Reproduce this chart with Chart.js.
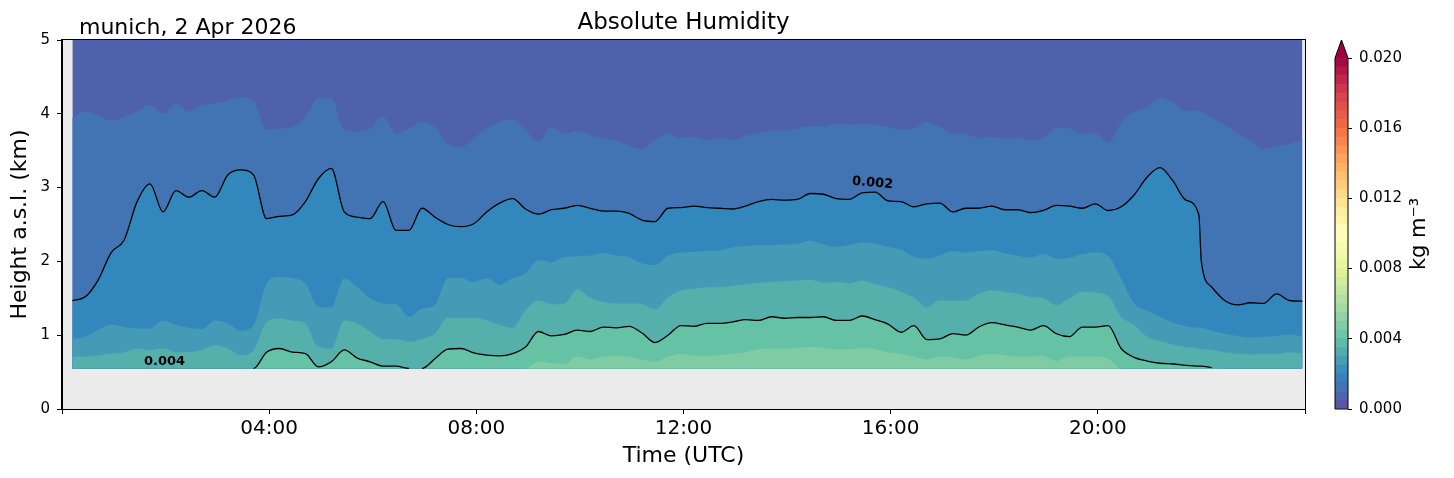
<!DOCTYPE html>
<html>
<head>
<meta charset="utf-8">
<script src="https://cdn.jsdelivr.net/npm/chart.js@4.4.1/dist/chart.umd.min.js"></script>
<style>
  html, body { margin: 0; padding: 0; background: #fff; }
  #main { position: absolute; left: 0; top: 0; width: 1320px; height: 478px; }
  #cbar { position: absolute; left: 1300px; top: 0; width: 154px; height: 478px; }
</style>
</head>
<body>
<div id="main"><canvas id="humidityChart"></canvas></div>
<div id="cbar"><canvas id="colorbarChart"></canvas></div>
<script>
// sample times (hours UTC)
const hours = [0.2, 0.45, 0.7, 0.95, 1.2, 1.45, 1.7, 1.95, 2.2, 2.45, 2.7, 2.95, 3.2, 3.45, 3.7, 3.95, 4.2, 4.45, 4.7, 4.95, 5.2, 5.45, 5.7, 5.95,
  6.2, 6.45, 6.7, 6.95, 7.2, 7.45, 7.7, 7.95, 8.2, 8.45, 8.7, 8.95, 9.2, 9.45, 9.7, 9.95, 10.2, 10.45, 10.7, 10.95, 11.2, 11.45, 11.7, 11.95,
  12.2, 12.45, 12.7, 12.95, 13.2, 13.45, 13.7, 13.95, 14.2, 14.45, 14.7, 14.95, 15.2, 15.45, 15.7, 15.95, 16.2, 16.45, 16.7, 16.95, 17.2, 17.45, 17.7, 17.95,
  18.2, 18.45, 18.7, 18.95, 19.2, 19.45, 19.7, 19.95, 20.2, 20.45, 20.7, 20.95, 21.2, 21.45, 21.7, 21.95, 22.0, 22.2, 22.45, 22.7, 22.95, 23.2, 23.45, 23.7, 23.95];

// contour edges, height a.s.l. in km (top to bottom)
const edge1 = [3.94, 4.03, 3.98, 3.91, 3.96, 4.03, 4.12, 4.00, 4.14, 4.03, 4.12, 4.14, 4.18, 4.22, 4.18, 3.78, 3.80, 3.82, 3.96, 4.21, 4.21, 3.78, 3.76, 3.80,
  3.96, 3.73, 3.80, 3.89, 3.82, 3.59, 3.55, 3.67, 3.80, 3.89, 3.92, 3.78, 3.62, 3.82, 3.73, 3.77, 3.71, 3.67, 3.64, 3.57, 3.53, 3.65, 3.74, 3.67,
  3.69, 3.64, 3.67, 3.64, 3.70, 3.74, 3.77, 3.77, 3.80, 3.83, 3.83, 3.87, 3.85, 3.87, 3.85, 3.82, 3.78, 3.80, 3.89, 3.82, 3.73, 3.73, 3.67, 3.69,
  3.66, 3.68, 3.64, 3.68, 3.81, 3.80, 3.73, 3.74, 3.61, 3.88, 4.03, 4.09, 4.22, 4.16, 4.04, 4.04, 4.03, 3.94, 3.85, 3.74, 3.63, 3.52, 3.56, 3.59, 3.65];
// 0.002 contour
const edge2 = [1.47, 1.52, 1.75, 2.12, 2.29, 2.81, 3.05, 2.67, 2.96, 2.87, 2.96, 2.87, 3.17, 3.24, 3.17, 2.58, 2.61, 2.63, 2.81, 3.12, 3.26, 2.67, 2.60, 2.58,
  2.81, 2.42, 2.42, 2.72, 2.60, 2.50, 2.47, 2.51, 2.67, 2.79, 2.85, 2.71, 2.64, 2.70, 2.72, 2.76, 2.72, 2.68, 2.68, 2.65, 2.56, 2.54, 2.72, 2.73,
  2.75, 2.73, 2.72, 2.71, 2.75, 2.81, 2.84, 2.83, 2.84, 2.92, 2.91, 2.85, 2.84, 2.93, 2.94, 2.82, 2.81, 2.74, 2.78, 2.79, 2.67, 2.72, 2.72, 2.75,
  2.70, 2.70, 2.66, 2.69, 2.76, 2.75, 2.72, 2.78, 2.69, 2.74, 2.90, 3.14, 3.27, 3.09, 2.83, 2.63, 1.99, 1.65, 1.47, 1.41, 1.44, 1.43, 1.56, 1.47, 1.46];
const edge3 = [0.95, 0.98, 1.07, 1.14, 1.11, 1.09, 1.09, 1.20, 1.14, 1.10, 1.08, 1.20, 1.16, 1.06, 1.14, 1.70, 1.79, 1.77, 1.70, 1.39, 1.38, 1.77, 1.65, 1.50,
  1.43, 1.42, 1.25, 1.36, 1.41, 1.77, 1.78, 1.72, 1.77, 1.68, 1.77, 1.84, 2.02, 1.99, 2.06, 2.07, 2.08, 2.11, 2.08, 2.06, 1.97, 1.95, 2.08, 2.12,
  2.13, 2.14, 2.15, 2.19, 2.21, 2.22, 2.22, 2.23, 2.24, 2.28, 2.23, 2.20, 2.22, 2.26, 2.24, 2.20, 2.16, 2.06, 2.04, 2.08, 2.14, 2.12, 2.14, 2.15,
  2.11, 2.08, 2.05, 2.10, 2.04, 2.05, 2.10, 2.12, 2.07, 1.77, 1.43, 1.33, 1.25, 1.17, 1.12, 1.10, 1.10, 1.06, 1.02, 0.99, 0.97, 0.98, 0.99, 1.01, 0.98];
const edge4 = [0.71, 0.71, 0.73, 0.75, 0.77, 0.82, 0.80, 0.82, 0.77, 0.77, 0.80, 0.86, 0.82, 0.73, 0.80, 1.18, 1.23, 1.20, 1.16, 0.84, 0.82, 1.20, 1.16, 1.05,
  0.95, 0.95, 0.91, 0.95, 1.02, 1.24, 1.23, 1.24, 1.20, 1.14, 1.10, 1.34, 1.47, 1.42, 1.43, 1.62, 1.51, 1.45, 1.43, 1.43, 1.42, 1.35, 1.51, 1.61,
  1.63, 1.65, 1.65, 1.67, 1.69, 1.71, 1.72, 1.73, 1.74, 1.75, 1.71, 1.72, 1.70, 1.74, 1.69, 1.65, 1.59, 1.51, 1.38, 1.47, 1.47, 1.47, 1.56, 1.61,
  1.59, 1.56, 1.52, 1.50, 1.41, 1.50, 1.59, 1.58, 1.53, 1.25, 1.14, 0.98, 0.92, 0.87, 0.84, 0.82, 0.81, 0.80, 0.77, 0.75, 0.74, 0.75, 0.74, 0.77, 0.75];
// 0.004 contour
const edge5 = [0.55, 0.55, 0.55, 0.55, 0.55, 0.55, 0.55, 0.55, 0.55, 0.55, 0.55, 0.55, 0.55, 0.55, 0.55, 0.77, 0.82, 0.77, 0.75, 0.57, 0.64, 0.80, 0.69, 0.64,
  0.58, 0.58, 0.55, 0.55, 0.68, 0.81, 0.82, 0.76, 0.73, 0.72, 0.75, 0.84, 1.05, 0.99, 1.01, 1.07, 1.05, 1.11, 1.10, 1.12, 1.03, 0.90, 1.00, 1.13,
  1.12, 1.16, 1.16, 1.18, 1.21, 1.20, 1.25, 1.23, 1.24, 1.24, 1.25, 1.20, 1.20, 1.26, 1.21, 1.15, 1.04, 1.13, 0.94, 0.95, 1.02, 1.00, 1.11, 1.17,
  1.14, 1.11, 1.07, 1.13, 1.02, 0.98, 1.11, 1.11, 1.13, 0.82, 0.70, 0.65, 0.62, 0.61, 0.59, 0.58, 0.58, 0.56, 0.55, 0.55, 0.55, 0.55, 0.55, 0.55, 0.55];
const edge6 = [0.55, 0.55, 0.55, 0.55, 0.55, 0.55, 0.55, 0.55, 0.55, 0.55, 0.55, 0.55, 0.55, 0.55, 0.55, 0.55, 0.55, 0.55, 0.55, 0.55, 0.55, 0.55, 0.55, 0.55,
  0.55, 0.55, 0.55, 0.55, 0.55, 0.55, 0.55, 0.55, 0.55, 0.55, 0.55, 0.55, 0.64, 0.62, 0.61, 0.71, 0.67, 0.71, 0.72, 0.71, 0.67, 0.64, 0.71, 0.75,
  0.72, 0.72, 0.73, 0.75, 0.77, 0.81, 0.82, 0.82, 0.83, 0.84, 0.83, 0.81, 0.81, 0.83, 0.81, 0.77, 0.75, 0.71, 0.67, 0.71, 0.70, 0.67, 0.72, 0.75,
  0.73, 0.71, 0.71, 0.72, 0.65, 0.71, 0.71, 0.71, 0.68, 0.55, 0.55, 0.55, 0.55, 0.55, 0.55, 0.55, 0.55, 0.55, 0.55, 0.55, 0.55, 0.55, 0.55, 0.55, 0.55];

const dataFloor = 0.55; // lowest range gate (km)
const xTicks = [0, 4, 8, 12, 16, 20, 24];
const yTicks = [0, 1, 2, 3, 4, 5];
const contourLabels = [
  { text: "0.002", hour: 15.65, km: 3.06, angle: 5 },
  { text: "0.004", hour: 1.98, km: 0.64, angle: 0 }
];
const cbarLevels = [0, 0.0005, 0.001, 0.0015, 0.002, 0.0025, 0.003, 0.0035, 0.004, 0.0045, 0.005, 0.0055, 0.006, 0.0065, 0.007, 0.0075,
  0.008, 0.0085, 0.009, 0.0095, 0.01, 0.0105, 0.011, 0.0115, 0.012, 0.0125, 0.013, 0.0135, 0.014, 0.0145, 0.015, 0.0155,
  0.016, 0.0165, 0.017, 0.0175, 0.018, 0.0185, 0.019, 0.0195, 0.02];
const cbarTicks = [0, 0.004, 0.008, 0.012, 0.016, 0.02];

const spectral = ["#5e4fa2", "#3288bd", "#66c2a5", "#abdda4", "#e6f598", "#ffffbf", "#fee08b", "#fdae61", "#f46d43", "#d53e4f", "#9e0142"];
const bandColors = ["#5061ab", "#4273b3", "#3288bd", "#439bb5", "#55afab", "#66c2a5", "#7ecba4"];

Chart.defaults.font.family = '"DejaVu Sans"';
Chart.defaults.color = "#000";

function hexRgb(h) {
  return [1, 3, 5].map(i => parseInt(h.slice(i, i + 2), 16));
}
function spectralR(v) {
  const pos = v * (spectral.length - 1);
  const i = Math.min(Math.floor(pos), spectral.length - 2);
  const f = pos - i;
  const a = hexRgb(spectral[i]), b = hexRgb(spectral[i + 1]);
  const c = a.map((x, k) => Math.round(x + (b[k] - x) * f));
  return `rgb(${c[0]},${c[1]},${c[2]})`;
}

const atFloor = (ctx) => ctx.p0.parsed.y <= dataFloor + 0.01 && ctx.p1.parsed.y <= dataFloor + 0.01;

function layer(values, color, fill, contour) {
  return {
    data: hours.map((h, i) => ({ x: h, y: values[i] })),
    backgroundColor: color,
    fill: fill,
    borderColor: contour ? "#000" : "rgba(0,0,0,0)",
    borderWidth: contour ? 1.3 : 0,
    pointRadius: 0,
    cubicInterpolationMode: "monotone",
    segment: contour ? { borderColor: ctx => atFloor(ctx) ? "rgba(0,0,0,0)" : "#000" } : {}
  };
}

const floorFill = { value: dataFloor };
// painted from last to first, so each lower band covers the one above
const datasets = [
  layer(edge6, bandColors[6], floorFill, false),
  layer(edge5, bandColors[5], floorFill, true),
  layer(edge4, bandColors[4], floorFill, false),
  layer(edge3, bandColors[3], floorFill, false),
  layer(edge2, bandColors[2], floorFill, true),
  layer(edge1, bandColors[1], floorFill, false),
  layer(edge6, bandColors[0], "end", false)
];

const plotBackground = {
  id: "plotBackground",
  beforeDraw(chart) {
    const { ctx, chartArea: a } = chart;
    ctx.save();
    ctx.fillStyle = "#ebebeb";
    ctx.fillRect(a.left, a.top, a.width, a.height);
    ctx.restore();
  }
};

const decorations = {
  id: "decorations",
  afterDraw(chart) {
    const { ctx, chartArea: a, scales: { x, y } } = chart;
    ctx.save();
    ctx.fillStyle = "#000";
    ctx.font = 'bold 13px "DejaVu Sans"';
    ctx.textAlign = "center";
    ctx.textBaseline = "middle";
    contourLabels.forEach(l => {
      ctx.save();
      ctx.translate(x.getPixelForValue(l.hour), y.getPixelForValue(l.km));
      ctx.rotate(l.angle * Math.PI / 180);
      ctx.fillText(l.text, 0, 0);
      ctx.restore();
    });
    ctx.strokeStyle = "#000";
    ctx.lineWidth = 1;
    ctx.strokeRect(Math.round(a.left) - 0.5, Math.round(a.top) - 0.5, Math.round(a.width) + 1, Math.round(a.height) + 1);
    ctx.textBaseline = "alphabetic";
    ctx.font = '23px "DejaVu Sans"';
    ctx.fillText("Absolute Humidity", (a.left + a.right) / 2, a.top - 11);
    ctx.textAlign = "left";
    ctx.font = '22px "DejaVu Sans"';
    ctx.fillText("munich, 2 Apr 2026", a.left + 17, a.top - 6);
    ctx.restore();
  }
};

const pad2 = n => String(n).padStart(2, "0");

new Chart(document.getElementById("humidityChart"), {
  type: "line",
  data: { datasets },
  options: {
    responsive: true,
    maintainAspectRatio: false,
    animation: false,
    events: [],
    layout: { padding: { top: 40, right: 15, bottom: 0, left: 0 } },
    plugins: { legend: { display: false }, tooltip: { enabled: false } },
    scales: {
      x: {
        type: "linear", min: 0, max: 24,
        afterBuildTicks: s => { s.ticks = xTicks.map(v => ({ value: v })); },
        afterFit: s => { s.height = 69; },
        ticks: { font: { size: 20 }, padding: 3, maxRotation: 0, autoSkip: false,
          callback: v => (v === 0 || v === 24) ? "" : pad2(v) + ":00" },
        grid: { drawOnChartArea: false, tickLength: 5, color: "#000" },
        border: { color: "#000" },
        title: { display: true, text: "Time (UTC)", font: { size: 22 }, padding: { top: 0, bottom: 9 } }
      },
      y: {
        min: 0, max: 5,
        afterBuildTicks: s => { s.ticks = yTicks.map(v => ({ value: v })); },
        afterFit: s => { s.width = 62; },
        ticks: { font: { size: 15 }, padding: 7 },
        grid: { drawOnChartArea: false, tickLength: 5, color: "#000" },
        border: { color: "#000" },
        title: { display: true, text: "Height a.s.l. (km)", font: { size: 22 }, padding: { top: 7, bottom: 0 } }
      }
    }
  },
  plugins: [plotBackground, decorations]
});

// colour bar
const cbarColors = cbarLevels.slice(0, -1).map((lv, k) => spectralR((k + 0.5) / (cbarLevels.length - 1)));

const cbarOutline = {
  id: "cbarOutline",
  afterDraw(chart) {
    const { ctx, chartArea: a } = chart;
    const mid = (a.left + a.right) / 2;
    const tip = a.top - 18;
    ctx.save();
    ctx.fillStyle = spectralR(1);
    ctx.beginPath();
    ctx.moveTo(a.left, a.top);
    ctx.lineTo(mid, tip);
    ctx.lineTo(a.right, a.top);
    ctx.closePath();
    ctx.fill();
    ctx.strokeStyle = "#000";
    ctx.lineWidth = 1;
    ctx.beginPath();
    ctx.moveTo(a.left, a.bottom);
    ctx.lineTo(a.left, a.top);
    ctx.lineTo(mid, tip);
    ctx.lineTo(a.right, a.top);
    ctx.lineTo(a.right, a.bottom);
    ctx.closePath();
    ctx.stroke();
    ctx.fillStyle = "#000";
    ctx.font = '21px "DejaVu Sans"';
    ctx.textAlign = "center";
    ctx.textBaseline = "middle";
    ctx.translate(120, 234);
    ctx.rotate(-Math.PI / 2);
    ctx.fillText("kg m\u207B\u00B3", 0, 0);
    ctx.restore();
  }
};

new Chart(document.getElementById("colorbarChart"), {
  type: "bar",
  data: {
    labels: [""],
    datasets: cbarColors.map((c, k) => ({
      data: [[cbarLevels[k], cbarLevels[k + 1]]],
      backgroundColor: c,
      borderWidth: 0,
      barPercentage: 1,
      categoryPercentage: 1,
      grouped: false
    }))
  },
  options: {
    responsive: true,
    maintainAspectRatio: false,
    animation: false,
    events: [],
    layout: { padding: { top: 58, left: 35, bottom: 69, right: 0 } },
    plugins: { legend: { display: false }, tooltip: { enabled: false } },
    scales: {
      x: { display: false },
      y: {
        position: "right", min: 0, max: 0.02,
        afterBuildTicks: s => { s.ticks = cbarTicks.map(v => ({ value: v })); },
        afterFit: s => { s.width = 106; },
        ticks: { font: { size: 15 }, padding: 7, callback: v => v.toFixed(3) },
        grid: { drawOnChartArea: false, tickLength: 4, color: "#000" },
        border: { display: false }
      }
    }
  },
  plugins: [cbarOutline]
});
</script>
</body>
</html>
